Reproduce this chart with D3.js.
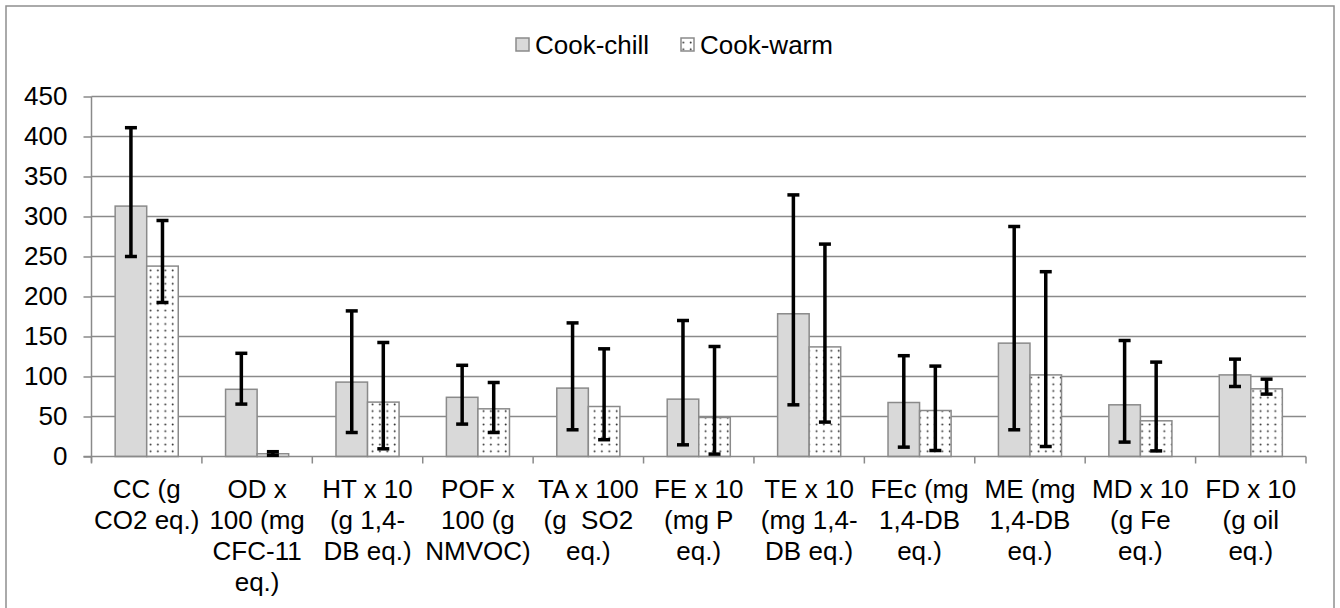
<!DOCTYPE html>
<html>
<head>
<meta charset="utf-8">
<script src="https://cdn.jsdelivr.net/npm/d3@7"></script>
<style>
  html, body { margin: 0; padding: 0; background: #fff; }
  svg { display: block; }
  text { font-family: "Liberation Sans", Arial, sans-serif; fill: #000; }
  tspan { white-space: pre; }
</style>
</head>
<body>
<svg id="chart" width="1340" height="608"></svg>
<script>
// ---------- data ----------
const categories = ["CC", "OD", "HT", "POF", "TA", "FE", "TE", "FEc", "ME", "MD", "FD"];
const categoryLabels = [
  ["CC (g", "CO2 eq.)"],
  ["OD x", "100 (mg", "CFC-11", "eq.)"],
  ["HT x 10", "(g 1,4-", "DB eq.)"],
  ["POF x", "100 (g", "NMVOC)"],
  ["TA x 100", "(g  SO2", "eq.)"],
  ["FE x 10", "(mg P", "eq.)"],
  ["TE x 10", "(mg 1,4-", "DB eq.)"],
  ["FEc (mg", "1,4-DB", "eq.)"],
  ["ME (mg", "1,4-DB", "eq.)"],
  ["MD x 10", "(g Fe", "eq.)"],
  ["FD x 10", "(g oil", "eq.)"]
];
const seriesNames = ["Cook-chill", "Cook-warm"];
const chillValues = [313, 84, 93, 74, 85.5, 71.7, 178.4, 67.5, 141.7, 64.6, 102];
const chillHigh   = [411, 129, 182, 114, 167, 170, 327, 126, 287.5, 145, 121.7];
const chillLow    = [250, 65.5, 30, 40.5, 33.4, 14.6, 64.6, 11.7, 33.4, 18, 87.5];
const warmValues  = [238, 3.4, 68, 59.6, 62.5, 48.8, 137, 57.5, 102, 44.6, 84.6];
const warmHigh    = [295, 6, 142.5, 92.5, 134.6, 137.5, 265.5, 113, 231, 118, 96.7];
const warmLow     = [192.5, 1.5, 9.6, 30, 21, 3, 43, 7.5, 12.5, 7, 78];
const yTicks = [0, 50, 100, 150, 200, 250, 300, 350, 400, 450];

// ---------- layout ----------
const svg = d3.select("#chart");
const plot = { left: 91.5, right: 1306, top: 96.5, bottom: 456.5 };
const gridColor = "#8a8a8a";
const FONT = 26;

// outer frame
svg.append("rect")
  .attr("x", 6).attr("y", 6).attr("width", 1328).attr("height", 640)
  .attr("fill", "none").attr("stroke", "#8f8f8f").attr("stroke-width", 1.5);

// pattern
const defs = svg.append("defs");
const pat = defs.append("pattern")
  .attr("id", "dots").attr("patternUnits", "userSpaceOnUse")
  .attr("width", 7.4).attr("height", 6.7);
pat.append("rect").attr("width", 7.4).attr("height", 6.7).attr("fill", "#fff");
pat.append("circle").attr("cx", 2.5).attr("cy", 2.5).attr("r", 0.95).attr("fill", "#333");

const x = d3.scaleBand().domain(categories).range([plot.left, plot.right]).paddingInner(0).paddingOuter(0);
const y = d3.scaleLinear().domain([0, 450]).range([plot.bottom, plot.top]);
const barW = x.bandwidth() / 3.5;

// gridlines
svg.append("g").selectAll("line").data(yTicks.filter(d => d > 0)).join("line")
  .attr("x1", plot.left).attr("x2", plot.right)
  .attr("y1", d => y(d)).attr("y2", d => y(d))
  .attr("stroke", gridColor).attr("stroke-width", 1.5);

// y axis
const yAxis = svg.append("g").attr("transform", `translate(${plot.left},0)`)
  .call(d3.axisLeft(y).tickValues(yTicks).tickSize(8).tickPadding(16).tickFormat(d3.format("d")));
yAxis.select(".domain").attr("stroke", gridColor).attr("stroke-width", 1.5)
  .attr("d", `M0,${plot.top}V${plot.bottom + 6}`);
yAxis.selectAll(".tick line").attr("stroke", gridColor).attr("stroke-width", 1.5);
yAxis.selectAll(".tick text").attr("font-size", FONT).attr("font-family", "Liberation Sans, Arial, sans-serif").attr("fill", "#000");

// x axis boundary ticks
const boundaries = categories.map(c => x(c)).concat([plot.right]);
svg.append("g").selectAll("line").data(boundaries).join("line")
  .attr("x1", d => d).attr("x2", d => d)
  .attr("y1", y(0)).attr("y2", y(0) + 7)
  .attr("stroke", gridColor).attr("stroke-width", 1.5);

// bars
const center = c => x(c) + x.bandwidth() / 2;
const series = [
  { name: seriesNames[0], vals: chillValues, hi: chillHigh, lo: chillLow, fill: "#d9d9d9", off: -barW },
  { name: seriesNames[1], vals: warmValues, hi: warmHigh, lo: warmLow, fill: "url(#dots)", off: 0 }
];
series.forEach(s => {
  svg.append("g").selectAll("rect").data(categories).join("rect")
    .attr("x", (c) => center(c) + s.off)
    .attr("y", (c, i) => y(s.vals[i]))
    .attr("width", barW)
    .attr("height", (c, i) => y(0) - y(s.vals[i]))
    .attr("fill", s.fill)
    .attr("stroke", "#8a8a8a").attr("stroke-width", 1.5);
});

// baseline over bars
svg.append("line").attr("x1", plot.left - 8).attr("x2", plot.right)
  .attr("y1", y(0)).attr("y2", y(0)).attr("stroke", gridColor).attr("stroke-width", 1.5);

// error bars
const capW = 12;
series.forEach(s => {
  const g = svg.append("g");
  categories.forEach((c, i) => {
    const cx = center(c) + s.off + barW / 2;
    g.append("line").attr("x1", cx).attr("x2", cx)
      .attr("y1", y(s.hi[i])).attr("y2", y(s.lo[i]))
      .attr("stroke", "#000").attr("stroke-width", 3.5);
    [s.hi[i], s.lo[i]].forEach(v => {
      g.append("line").attr("x1", cx - capW / 2).attr("x2", cx + capW / 2)
        .attr("y1", y(v)).attr("y2", y(v))
        .attr("stroke", "#000").attr("stroke-width", 3.5);
    });
  });
});

// category labels
const lblG = svg.append("g");
categories.forEach((c, i) => {
  const t = lblG.append("text")
    .attr("x", center(c)).attr("y", 498)
    .attr("text-anchor", "middle").attr("font-size", FONT)
    .attr("xml:space", "preserve");
  categoryLabels[i].forEach((line, j) => {
    t.append("tspan").attr("x", center(c)).attr("y", 498 + j * 31).text(line);
  });
});

// legend
const legend = svg.append("g");
const legendItems = [
  { name: seriesNames[0], fill: "#d9d9d9", x: 516 },
  { name: seriesNames[1], fill: "url(#dots)", x: 681 }
];
legendItems.forEach(li => {
  legend.append("rect").attr("x", li.x).attr("y", 38).attr("width", 13).attr("height", 13)
    .attr("fill", li.fill).attr("stroke", "#8a8a8a").attr("stroke-width", 1.5);
  legend.append("text").attr("x", li.x + 19).attr("y", 54)
    .attr("font-size", FONT).text(li.name);
});
</script>
</body>
</html>
